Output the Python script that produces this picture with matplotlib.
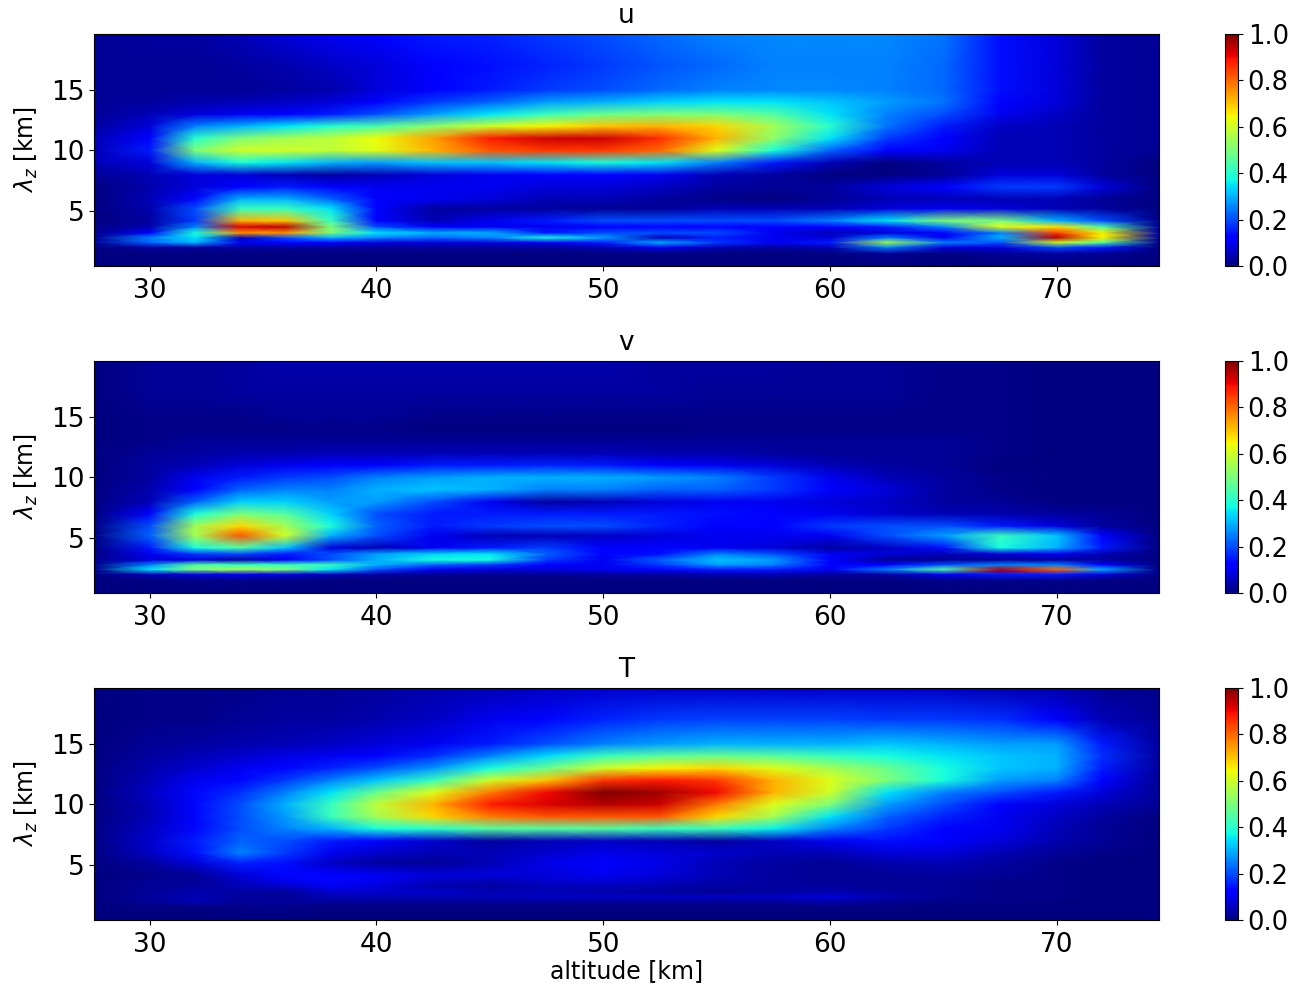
# -*- coding: UTF-8 -*-
import numpy as np
import matplotlib
matplotlib.use('Agg')
import matplotlib.pyplot as plt

altitude = [27.5, 30, 32, 34, 36, 38, 40, 42.5, 45, 47.5, 50, 52.5, 55, 57.5, 60, 62.5, 65, 67.5, 70, 72, 74.5]
wavelength = [0.5, 1.5, 2, 2.4, 2.8, 3.2, 3.7, 4.2, 5.2, 6, 7, 8, 9, 10, 11, 12, 13, 14, 15, 17, 19.5]

u_power = [
    [0, 0, 0, 0, 0, 0, 0, 0, 0, 0, 0, 0, 0, 0, 0, 0, 0, 0, 0, 0, 0],
    [0, 0, 0, 0, 0, 0, 0, 0, 0, 0, 0, 0, 0, 0, 0, .02, 0, .02, .03, .02, 0],
    [0, .03, .03, .03, .03, .03, .03, .03, .03, .03, .05, .10, .05, .03, .05, .25, .08, .08, .2, .15, 0],
    [.02, .22, .3, .1, .12, .12, .08, .08, .08, .1, .15, .30, .18, .1, .15, .55, .25, .2, .6, .45, .02],
    [.02, .25, .35, .05, .2, .3, .25, .22, .25, .38, .28, .05, .15, .1, .08, .25, .1, .3, .95, .65, .03],
    [.01, .12, .38, .75, .75, .5, .35, .3, .3, .15, .2, .2, .2, .1, .05, .08, .12, .25, .85, .65, .03],
    [.01, .04, .25, .92, .95, .5, .2, .12, .1, .1, .12, .12, .12, .12, .12, .15, .25, .62, .67, .45, .02],
    [0, .03, .18, .72, .7, .42, .12, .05, .1, .15, .2, .2, .2, .2, .25, .35, .5, .5, .3, .2, .01],
    [0, .04, .2, .42, .42, .35, .12, .03, .03, .03, .02, .02, .05, .05, .05, .08, .1, .08, .05, .03, 0],
    [0, .05, .13, .3, .3, .22, .12, .1, .08, .05, .05, .03, .01, 0, .02, .05, .05, .05, .05, .02, 0],
    [0, .04, .08, .12, .15, .12, .1, .1, .1, .08, .08, .06, .03, .02, .03, .08, .12, .18, .18, .08, 0],
    [.02, .05, .08, .08, .05, .03, .05, .08, .1, .12, .12, .1, .05, .03, 0, 0, .02, .08, .08, .03, 0],
    [.05, .08, .3, .38, .35, .3, .28, .32, .32, .35, .38, .35, .25, .15, .05, 0, .03, .05, .05, .03, 0],
    [.05, .15, .5, .6, .6, .58, .62, .72, .82, .85, .85, .8, .62, .38, .22, .12, .1, .05, .05, .03, .02],
    [.05, .12, .4, .5, .55, .58, .64, .74, .88, .93, .93, .86, .72, .52, .35, .18, .12, .05, .05, .03, .02],
    [.03, .08, .25, .3, .35, .4, .44, .52, .6, .65, .7, .72, .68, .55, .4, .24, .15, .06, .05, .03, .02],
    [.02, .05, .08, .1, .12, .15, .2, .28, .35, .42, .48, .5, .5, .45, .35, .25, .2, .1, .06, .03, .02],
    [.02, .03, .04, .05, .06, .08, .12, .18, .22, .28, .3, .33, .35, .35, .32, .28, .24, .12, .08, .03, .02],
    [.02, .02, .02, .02, .03, .04, .08, .12, .15, .18, .2, .23, .25, .26, .26, .25, .23, .14, .08, .03, .02],
    [.02, .02, .02, .03, .04, .06, .08, .12, .14, .16, .18, .21, .23, .25, .25, .25, .23, .14, .08, .03, .02],
    [.02, .03, .03, .05, .08, .1, .12, .15, .16, .18, .2, .23, .25, .26, .26, .26, .24, .14, .08, .03, .02],
]

v_power = [
    [0, 0, 0, 0, 0, 0, 0, 0, 0, 0, 0, 0, 0, 0, 0, 0, 0, 0, 0, 0, 0],
    [0, 0, .01, .01, .01, 0, 0, 0, 0, 0, 0, 0, 0, 0, 0, 0, .01, .01, .01, 0, 0],
    [0, .05, .08, .1, .08, .05, .03, .02, .02, .02, .03, .03, .05, .05, .03, .03, .1, .15, .15, .08, 0],
    [.01, .35, .5, .55, .5, .35, .2, .1, .08, .08, .1, .12, .15, .15, .1, .25, .45, .95, .8, .3, .01],
    [.01, .25, .45, .42, .42, .42, .3, .22, .18, .12, .1, .18, .28, .25, .12, .12, .2, .25, .25, .12, 0],
    [.01, .08, .08, .03, .1, .2, .3, .38, .38, .18, .1, .22, .32, .28, .12, .02, .02, .02, .03, .03, 0],
    [0, .1, .18, .2, .15, .2, .28, .33, .35, .22, .12, .14, .25, .2, .1, .08, .05, .08, .1, .05, 0],
    [0, .15, .38, .45, .32, .08, .05, .1, .15, .18, .12, .12, .1, .08, .03, .06, .14, .38, .3, .15, 0],
    [0, .22, .55, .82, .6, .3, .2, .1, .05, .05, .06, .08, .1, .1, .1, .2, .28, .42, .32, .12, 0],
    [0, .2, .55, .68, .55, .38, .22, .15, .18, .2, .2, .16, .12, .12, .18, .2, .2, .15, .08, .03, 0],
    [0, .12, .38, .5, .45, .33, .2, .15, .15, .15, .15, .15, .14, .12, .1, .07, .05, .04, .03, .02, 0],
    [0, .05, .22, .33, .33, .28, .28, .2, .1, .03, .05, .08, .1, .1, .08, .06, .03, .02, 0, 0, 0],
    [0, .04, .12, .22, .25, .25, .3, .32, .3, .25, .25, .22, .22, .18, .12, .08, .03, .01, 0, 0, 0],
    [0, .03, .1, .15, .18, .2, .25, .28, .3, .3, .3, .28, .25, .18, .1, .05, .03, .01, 0, 0, 0],
    [0, .03, .05, .08, .1, .12, .12, .15, .15, .16, .15, .12, .1, .08, .05, .03, .02, 0, 0, 0, 0],
    [0, .02, .03, .04, .04, .05, .05, .05, .05, .05, .05, .04, .04, .03, .02, .02, .02, .01, 0, 0, 0],
    [0, .01, .02, .02, .02, .02, .02, .02, .02, .02, .02, .02, .02, .02, .02, .02, .02, .01, 0, 0, 0],
    [0, .01, .01, .01, .01, .01, .01, 0, 0, 0, 0, 0, .01, .01, .01, .01, .01, .01, 0, 0, 0],
    [0, .01, .01, .01, .02, .02, .02, .01, .01, .01, .01, .01, .01, .01, .01, .01, .01, .01, 0, 0, 0],
    [0, .02, .02, .03, .03, .03, .03, .03, .03, .03, .03, .03, .02, .02, .02, .02, .01, .01, 0, 0, 0],
    [0, .02, .02, .03, .04, .04, .04, .04, .04, .04, .04, .03, .03, .03, .02, .02, .01, .01, 0, 0, 0],
]

t_power = [
    [0, 0, 0, 0, 0, 0, 0, 0, 0, 0, 0, 0, 0, 0, 0, 0, 0, 0, 0, 0, 0],
    [0, 0, 0, .01, .01, 0, 0, 0, 0, 0, 0, 0, 0, 0, 0, 0, 0, 0, 0, 0, 0],
    [0, .02, .05, .02, .03, .03, .03, .03, .03, .03, .03, .03, .03, .03, .04, .02, .01, .01, 0, 0, 0],
    [0, .03, .05, .03, .02, .05, .05, .05, .05, .06, .06, .06, .06, .06, .08, .04, .02, .01, .01, 0, 0],
    [0, .02, .04, .03, .03, .07, .07, .07, .05, .05, .04, .03, .02, .03, .04, .03, .02, .01, .01, 0, 0],
    [0, .02, .03, .05, .06, .1, .08, .04, .03, .05, .05, .04, .03, .03, .03, .02, .02, .01, .01, 0, 0],
    [0, .02, .02, .06, .1, .13, .1, .06, .05, .07, .08, .06, .04, .03, .02, .02, .02, .01, .01, 0, 0],
    [0, .01, .02, .08, .13, .12, .1, .08, .08, .08, .1, .08, .05, .03, .02, .02, .03, .02, .01, 0, 0],
    [0, .03, .08, .16, .14, .06, .03, .02, .05, .09, .12, .09, .05, .03, .02, .04, .05, .03, .01, 0, 0],
    [0, .06, .14, .25, .18, .1, .07, .05, .05, .07, .09, .08, .07, .05, .05, .08, .08, .05, .02, .01, 0],
    [0, .07, .15, .22, .2, .15, .12, .07, .03, .05, .06, .05, .03, .06, .1, .14, .12, .08, .04, .02, 0],
    [0, .06, .13, .2, .25, .3, .38, .4, .45, .45, .45, .42, .42, .36, .25, .18, .12, .1, .05, .02, 0],
    [0, .05, .13, .2, .28, .42, .55, .68, .78, .82, .82, .82, .68, .55, .35, .22, .16, .1, .06, .03, 0],
    [0, .05, .13, .2, .3, .42, .58, .72, .88, .92, .95, .93, .78, .62, .5, .28, .2, .12, .08, .05, .02],
    [0, .06, .13, .17, .25, .35, .48, .62, .78, .9, 1, .97, .9, .72, .6, .35, .25, .2, .15, .08, .02],
    [0, .05, .1, .13, .18, .25, .32, .42, .6, .7, .85, .88, .85, .72, .62, .5, .38, .28, .25, .12, .02],
    [0, .04, .07, .1, .13, .16, .2, .27, .38, .48, .6, .65, .68, .62, .55, .48, .38, .32, .3, .15, .03],
    [0, .03, .05, .07, .09, .1, .12, .17, .25, .34, .42, .46, .48, .46, .42, .38, .35, .32, .3, .17, .03],
    [0, .02, .03, .04, .05, .06, .08, .1, .15, .2, .25, .28, .3, .3, .3, .32, .3, .28, .28, .15, .03],
    [0, .01, .01, .02, .03, .03, .04, .06, .1, .13, .16, .18, .19, .19, .19, .18, .18, .17, .12, .05, .02],
    [0, .01, .01, .01, .02, .02, .03, .04, .05, .06, .07, .07, .07, .07, .07, .07, .06, .05, .04, .02, .01],
]

titles = ['u', 'v', 'T']
panels = [u_power, v_power, t_power]
panel_tops = [34, 361, 688]  # pixels from the top of the figure

W, H = 1303, 986
fig = plt.figure(figsize=(W / 100, H / 100), dpi=100)
for name, power, top in zip(titles, panels, panel_tops):
    ax = fig.add_axes([94 / W, 1 - (top + 232) / H, 1065 / W, 232 / H])
    mesh = ax.pcolormesh(altitude, wavelength, np.array(power), cmap='jet', vmin=0, vmax=1, shading='gouraud')
    ax.set_xlim(27.55, 74.5)
    ax.set_ylim(0.46, 19.6)
    ax.set_xticks([30, 40, 50, 60, 70])
    ax.set_yticks([5, 10, 15])
    ax.tick_params(labelsize=19)
    ax.tick_params(axis='x', pad=5)
    ax.set_ylabel(r'$\lambda_z$ [km]', fontsize=17, labelpad=8)
    ax.set_title(name, fontsize=19, pad=8)
    cax = fig.add_axes([1225 / W, 1 - (top + 232) / H, 13 / W, 232 / H])
    cb = fig.colorbar(mesh, cax=cax)
    cb.set_ticks([0, 0.2, 0.4, 0.6, 0.8, 1.0])
    cb.ax.tick_params(labelsize=18.5)
ax.set_xlabel('altitude [km]', fontsize=17, labelpad=1)

fig.savefig('out.png', dpi=100)
